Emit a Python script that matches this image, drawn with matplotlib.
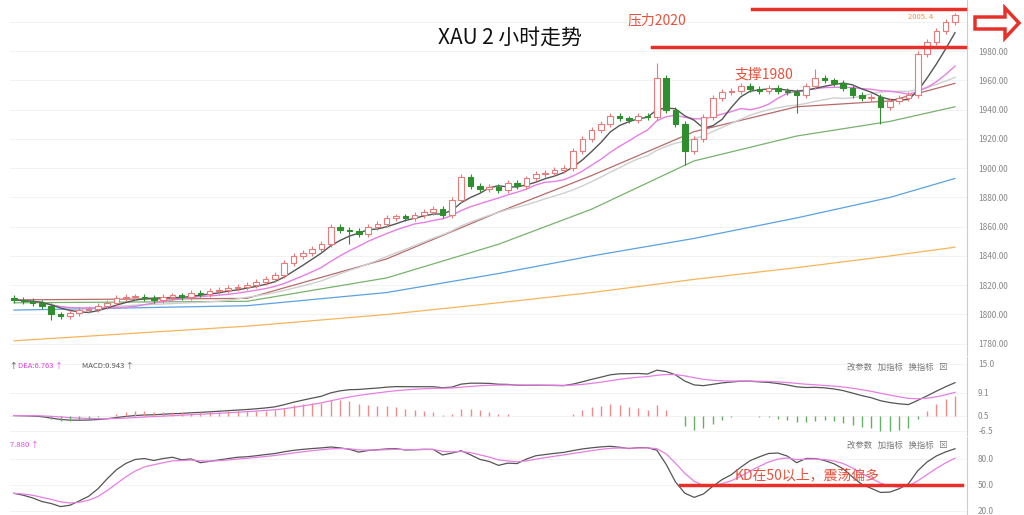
import numpy as np
import pandas as pd
import matplotlib
matplotlib.use("Agg")
import matplotlib.pyplot as plt
from matplotlib.patches import FancyArrow

plt.rcParams["font.family"] = ["Noto Sans CJK SC", "DejaVu Sans"]

# 2-hour closes
closes = [1810, 1809, 1808, 1806, 1800, 1799, 1801, 1803, 1804, 1806,
          1808, 1811, 1812, 1812, 1811, 1810, 1812, 1813, 1812, 1815,
          1814, 1816, 1817, 1818, 1819, 1820, 1822, 1824, 1827, 1835,
          1840, 1842, 1845, 1848, 1860, 1858, 1857, 1855, 1860, 1862,
          1866, 1867, 1866, 1868, 1870, 1872, 1868, 1878, 1894, 1888,
          1886, 1887, 1885, 1890, 1888, 1893, 1896, 1897, 1899, 1900,
          1912, 1920, 1926, 1930, 1936, 1934, 1933, 1936, 1935, 1962,
          1940, 1930, 1912, 1920, 1935, 1948, 1952, 1953, 1956, 1954,
          1953, 1955, 1953, 1952, 1950, 1956, 1962, 1960, 1958, 1955,
          1950, 1948, 1949, 1942, 1946, 1948, 1950, 1978, 1986, 1994,
          2000, 2005]
special_high = {69: 1972, 86: 1968, 101: 2006}
special_low = {72: 1902, 93: 1930, 84: 1938, 36: 1848, 4: 1796}

# long moving averages, sampled at candle indices
ma_idx = [0, 25, 40, 52, 62, 73, 84, 94, 101]
ma_green = [1808, 1809, 1825, 1848, 1872, 1905, 1922, 1932, 1942]
ma_brown = [1810, 1811, 1838, 1870, 1895, 1925, 1942, 1946, 1958]
ma_blue = [1803, 1806, 1815, 1828, 1840, 1852, 1866, 1880, 1893]
ma_orange = [1782, 1792, 1800, 1808, 1815, 1824, 1832, 1840, 1846]

c = pd.Series(closes, dtype=float)
o = c.shift(1).fillna(c.iloc[0] + 1)
hi = np.maximum(o, c) + 2
lo = np.minimum(o, c) - 2
for k, v in special_high.items():
    hi[k] = v
for k, v in special_low.items():
    lo[k] = v
n = len(c)
x = np.arange(n)
step = (955 - 14) / (n - 1)

fig = plt.figure(figsize=(10.24, 5.15), dpi=100)
W, H = 1024, 515
left, right = 10 / W, 967 / W


def axes_px(y0, y1):
    return fig.add_axes([left, 1 - y1 / H, right - left, (y1 - y0) / H])


def px(xp):
    return (xp - 14) / step


ax = axes_px(0, 355)
ax_m = axes_px(357, 435)
ax_k = axes_px(437, 515)

for a in (ax, ax_m, ax_k):
    a.set_xlim(px(10), px(967))
    a.yaxis.tick_right()
    a.set_xticks([])
    for s in ("top", "left", "bottom"):
        a.spines[s].set_visible(False)
    a.spines["right"].set_color("#cccccc")
    a.tick_params(axis="y", length=0, labelsize=6, labelcolor="#888888", pad=8)
    a.grid(axis="y", color="#f0f0f0", lw=0.6)
    a.set_facecolor("white")

# price panel
ax.set_ylim(1772.3, 2015)
ax.set_yticks(range(1780, 2001, 20))
ax.set_yticklabels(["%d.00" % v for v in range(1780, 2001, 20)])

ax.plot(ma_idx, ma_orange, color="#f7b55a", lw=0.9)
ax.plot(ma_idx, ma_blue, color="#5aa2e0", lw=0.9)
ax.plot(ma_idx, ma_green, color="#77b36d", lw=0.9)
ax.plot(ma_idx, ma_brown, color="#b86a6a", lw=0.9)
ax.plot(x, c.rolling(20, min_periods=1).mean(), color="#cfcfcf", lw=1)
ax.plot(x, c.rolling(10, min_periods=1).mean(), color="#e67ee6", lw=1)
ax.plot(x, c.rolling(5, min_periods=1).mean(), color="#555555", lw=1)

for i in range(n):
    up = c[i] >= o[i]
    col = "#e87a7a" if up else "#2f8f2f"
    ax.vlines(i, lo[i], hi[i], color=col, lw=0.8, zorder=3)
    bot = min(o[i], c[i])
    h = max(abs(c[i] - o[i]), 0.6)
    ax.bar(i, h, bottom=bot, width=0.6, color="white" if up else col,
           edgecolor=col, lw=0.8, zorder=4)

red = "#e8302a"
ax.plot([px(752), px(965)], [2009, 2009], color=red, lw=2.5, zorder=5, clip_on=False)
ax.plot([px(652), px(965)], [1983, 1983], color=red, lw=2.5, zorder=5, clip_on=False)
ax.text(px(628), 1998, "压力2020", color="#e8503c", fontsize=10)
ax.text(px(735), 1961, "支撑1980", color="#e8503c", fontsize=10)
ax.text(px(908), 2002, "2005. 4", color="#f0904a", fontsize=5.5)
fig.text(510 / W, 1 - 38 / H, "XAU 2 小时走势", fontsize=15, ha="center", va="center",
         color="#111111")
fig.patches.append(FancyArrow(975 / W, 1 - 23 / H, 30 / W, 0, width=12 / H,
                              head_width=30 / H, head_length=14 / W,
                              length_includes_head=False, transform=fig.transFigure,
                              fc="white", ec=red, lw=2.5, figure=fig))

# MACD panel
ema12 = c.ewm(span=12, adjust=False).mean()
ema26 = c.ewm(span=26, adjust=False).mean()
dif = ema12 - ema26
dea = dif.ewm(span=9, adjust=False).mean()
hist = dif - dea
ax_m.plot(x, dif, color="#555555", lw=0.9)
ax_m.plot(x, dea, color="#e67ee6", lw=0.9)
ax_m.vlines(x, 0, hist * 2, colors=np.where(hist >= 0, "#f08a8a", "#62b062"), lw=1)
lo_m, hi_m = min(dif.min(), (hist * 2).min()), dif.max()
ax_m.set_ylim(lo_m - 2, hi_m + 6)
ax_m.set_yticks([lo_m, 0, hi_m * 0.5, hi_m + 3])
ax_m.set_yticklabels(["-6.5", "0.5", "9.1", "15.0"])
ax_m.text(0, 0.93, "↑ ", color="#333333", fontsize=5.5, transform=ax_m.transAxes, va="top")
ax_m.text(0.008, 0.93, "DEA:6.763 ↑", color="#e040e0", fontsize=5.5, transform=ax_m.transAxes, va="top")
ax_m.text(0.075, 0.93, "MACD:0.943 ↑", color="#555555", fontsize=5.5, transform=ax_m.transAxes, va="top")
ax_m.text(0.98, 0.93, "改参数   加指标   换指标   ⊠", color="#777777", fontsize=6,
          transform=ax_m.transAxes, va="top", ha="right")

# KD panel
low9 = pd.Series(lo).rolling(9, min_periods=1).min()
high9 = pd.Series(hi).rolling(9, min_periods=1).max()
rsv = (c - low9) / (high9 - low9) * 100
k = rsv.ewm(alpha=1 / 3, adjust=False).mean()
d = k.ewm(alpha=1 / 3, adjust=False).mean()
ax_k.plot(x, k, color="#555555", lw=0.9)
ax_k.plot(x, d, color="#e67ee6", lw=0.9)
ax_k.set_ylim(15, 105)
ax_k.set_yticks([20, 50, 80])
ax_k.set_yticklabels(["20.0", "50.0", "80.0"])
ax_k.plot([px(680), px(962)], [50, 50], color=red, lw=2.5, zorder=5)
ax_k.text(px(735), 56, "KD在50以上，震荡偏多", color="#e8503c", fontsize=10)
ax_k.text(0, 0.95, "7.880 ↑", color="#e040e0", fontsize=5.5, transform=ax_k.transAxes, va="top")
ax_k.text(0.98, 0.95, "改参数   加指标   换指标   ⊠", color="#777777", fontsize=6,
          transform=ax_k.transAxes, va="top", ha="right")

fig.savefig("out.png", dpi=100)
